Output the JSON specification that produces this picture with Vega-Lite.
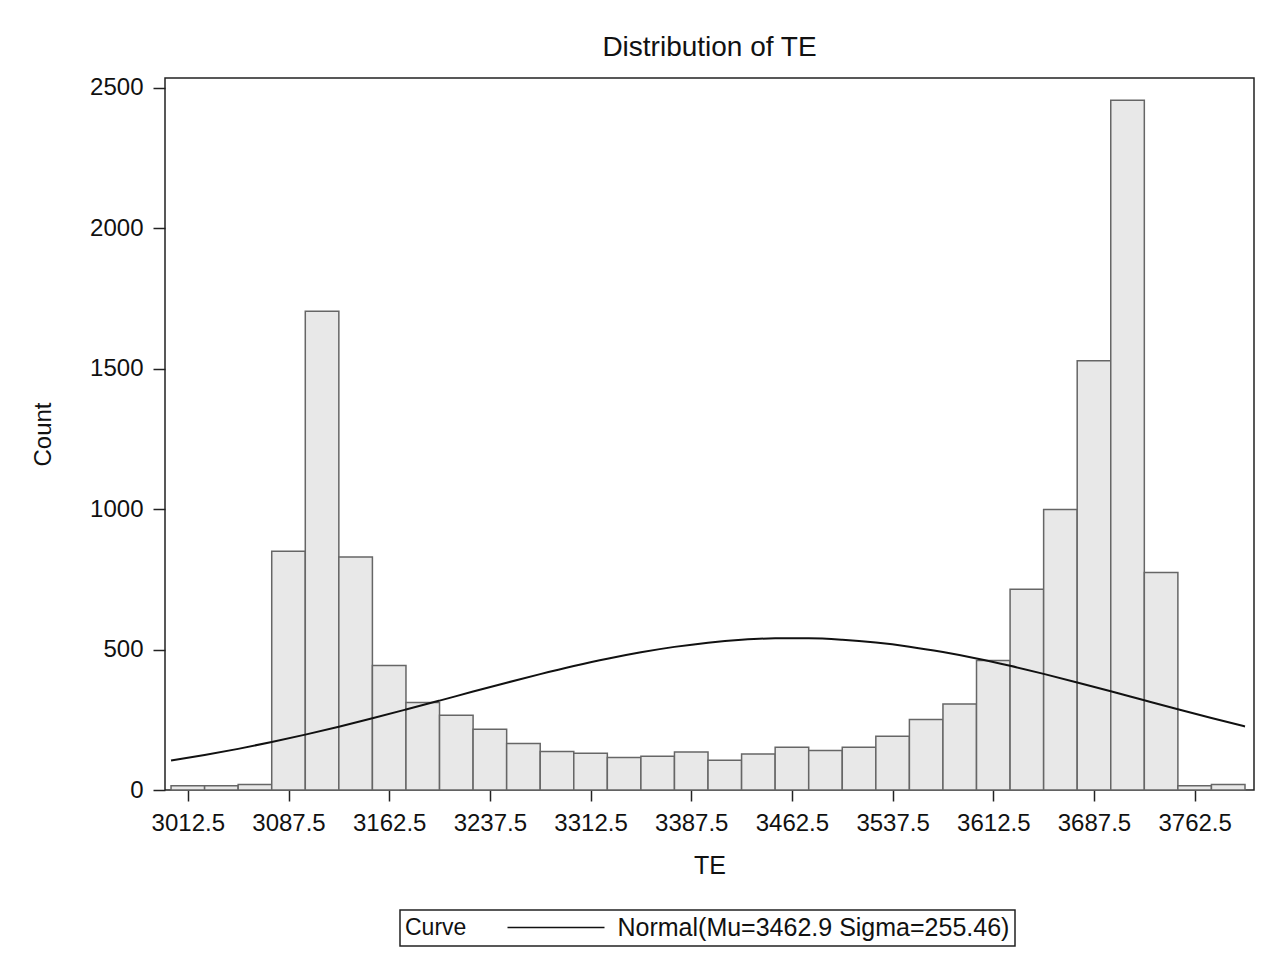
{
  "$schema": "https://vega.github.io/schema/vega-lite/v6.json",
  "width": 1089,
  "height": 712,
  "autosize": {"type": "none"},
  "padding": {"left": 165, "top": 78, "right": 33, "bottom": 172},
  "background": "white",
  "title": {
    "text": "Distribution of TE",
    "font": "Liberation Sans",
    "fontSize": 28,
    "fontWeight": "normal",
    "color": "#111",
    "baseline": "alphabetic",
    "offset": -8,
    "anchor": "middle"
  },
  "config": {
    "view": {"stroke": "#222", "strokeWidth": 1.5},
    "axis": {
      "labelFont": "Liberation Sans",
      "titleFont": "Liberation Sans",
      "labelFontSize": 24,
      "titleFontSize": 24,
      "titleFontWeight": "normal",
      "labelColor": "#111",
      "titleColor": "#111",
      "tickColor": "#222",
      "tickWidth": 1.5,
      "domain": false,
      "grid": false
    },
    "legend": {
      "labelFont": "Liberation Sans",
      "titleFont": "Liberation Sans",
      "strokeColor": "#222",
      "strokeWidth": 1.5
    }
  },
  "datasets": {
    "bins": [
      {"start": 3000, "end": 3025, "count": 15},
      {"start": 3025, "end": 3050, "count": 15},
      {"start": 3050, "end": 3075, "count": 20},
      {"start": 3075, "end": 3100, "count": 850},
      {"start": 3100, "end": 3125, "count": 1705},
      {"start": 3125, "end": 3150, "count": 830},
      {"start": 3150, "end": 3175, "count": 443},
      {"start": 3175, "end": 3200, "count": 312},
      {"start": 3200, "end": 3225, "count": 266},
      {"start": 3225, "end": 3250, "count": 216},
      {"start": 3250, "end": 3275, "count": 166},
      {"start": 3275, "end": 3300, "count": 137},
      {"start": 3300, "end": 3325, "count": 131},
      {"start": 3325, "end": 3350, "count": 116},
      {"start": 3350, "end": 3375, "count": 120},
      {"start": 3375, "end": 3400, "count": 135},
      {"start": 3400, "end": 3425, "count": 106},
      {"start": 3425, "end": 3450, "count": 128},
      {"start": 3450, "end": 3475, "count": 152},
      {"start": 3475, "end": 3500, "count": 141},
      {"start": 3500, "end": 3525, "count": 152},
      {"start": 3525, "end": 3550, "count": 191},
      {"start": 3550, "end": 3575, "count": 251},
      {"start": 3575, "end": 3600, "count": 306},
      {"start": 3600, "end": 3625, "count": 461},
      {"start": 3625, "end": 3650, "count": 715},
      {"start": 3650, "end": 3675, "count": 999},
      {"start": 3675, "end": 3700, "count": 1529},
      {"start": 3700, "end": 3725, "count": 2456},
      {"start": 3725, "end": 3750, "count": 775},
      {"start": 3750, "end": 3775, "count": 15},
      {"start": 3775, "end": 3800, "count": 20}
    ],
    "curve": [
      {"te": 3000, "density": 104.7, "curve": "Normal(Mu=3462.9 Sigma=255.46)"},
      {"te": 3025, "density": 124.5, "curve": "Normal(Mu=3462.9 Sigma=255.46)"},
      {"te": 3050, "density": 146.5, "curve": "Normal(Mu=3462.9 Sigma=255.46)"},
      {"te": 3075, "density": 170.8, "curve": "Normal(Mu=3462.9 Sigma=255.46)"},
      {"te": 3100, "density": 197.2, "curve": "Normal(Mu=3462.9 Sigma=255.46)"},
      {"te": 3125, "density": 225.5, "curve": "Normal(Mu=3462.9 Sigma=255.46)"},
      {"te": 3150, "density": 255.4, "curve": "Normal(Mu=3462.9 Sigma=255.46)"},
      {"te": 3175, "density": 286.6, "curve": "Normal(Mu=3462.9 Sigma=255.46)"},
      {"te": 3200, "density": 318.4, "curve": "Normal(Mu=3462.9 Sigma=255.46)"},
      {"te": 3225, "density": 350.5, "curve": "Normal(Mu=3462.9 Sigma=255.46)"},
      {"te": 3250, "density": 382.1, "curve": "Normal(Mu=3462.9 Sigma=255.46)"},
      {"te": 3275, "density": 412.6, "curve": "Normal(Mu=3462.9 Sigma=255.46)"},
      {"te": 3300, "density": 441.3, "curve": "Normal(Mu=3462.9 Sigma=255.46)"},
      {"te": 3325, "density": 467.5, "curve": "Normal(Mu=3462.9 Sigma=255.46)"},
      {"te": 3350, "density": 490.5, "curve": "Normal(Mu=3462.9 Sigma=255.46)"},
      {"te": 3375, "density": 509.7, "curve": "Normal(Mu=3462.9 Sigma=255.46)"},
      {"te": 3400, "density": 524.7, "curve": "Normal(Mu=3462.9 Sigma=255.46)"},
      {"te": 3425, "density": 534.9, "curve": "Normal(Mu=3462.9 Sigma=255.46)"},
      {"te": 3450, "density": 540.1, "curve": "Normal(Mu=3462.9 Sigma=255.46)"},
      {"te": 3475, "density": 540.2, "curve": "Normal(Mu=3462.9 Sigma=255.46)"},
      {"te": 3500, "density": 535.1, "curve": "Normal(Mu=3462.9 Sigma=255.46)"},
      {"te": 3525, "density": 525.1, "curve": "Normal(Mu=3462.9 Sigma=255.46)"},
      {"te": 3550, "density": 510.3, "curve": "Normal(Mu=3462.9 Sigma=255.46)"},
      {"te": 3575, "density": 491.1, "curve": "Normal(Mu=3462.9 Sigma=255.46)"},
      {"te": 3600, "density": 468.3, "curve": "Normal(Mu=3462.9 Sigma=255.46)"},
      {"te": 3625, "density": 442.2, "curve": "Normal(Mu=3462.9 Sigma=255.46)"},
      {"te": 3650, "density": 413.6, "curve": "Normal(Mu=3462.9 Sigma=255.46)"},
      {"te": 3675, "density": 383.1, "curve": "Normal(Mu=3462.9 Sigma=255.46)"},
      {"te": 3700, "density": 351.6, "curve": "Normal(Mu=3462.9 Sigma=255.46)"},
      {"te": 3725, "density": 319.5, "curve": "Normal(Mu=3462.9 Sigma=255.46)"},
      {"te": 3750, "density": 287.6, "curve": "Normal(Mu=3462.9 Sigma=255.46)"},
      {"te": 3775, "density": 256.4, "curve": "Normal(Mu=3462.9 Sigma=255.46)"},
      {"te": 3800, "density": 226.4, "curve": "Normal(Mu=3462.9 Sigma=255.46)"}
    ]
  },
  "layer": [
    {
      "data": {"name": "bins"},
      "mark": {"type": "rect", "fill": "#e8e8e8", "stroke": "#666", "strokeWidth": 1.5},
      "encoding": {
        "x": {
          "field": "start",
          "type": "quantitative",
          "scale": {"domain": [2995.5, 3806.7], "nice": false, "zero": false},
          "axis": {
            "title": "TE",
            "values": [3012.5, 3087.5, 3162.5, 3237.5, 3312.5, 3387.5, 3462.5, 3537.5, 3612.5, 3687.5, 3762.5],
            "format": ".1f",
            "tickSize": 11,
            "labelPadding": 10,
            "titlePadding": 18,
            "titleFontSize": 25,
            "labelOverlap": false,
            "labelFlush": false
          }
        },
        "x2": {"field": "end"},
        "y": {
          "field": "count",
          "type": "quantitative",
          "scale": {"domain": [0, 2535.6], "nice": false, "zero": true},
          "axis": {
            "title": "Count",
            "values": [0, 500, 1000, 1500, 2000, 2500],
            "format": "d",
            "tickSize": 12,
            "labelPadding": 10,
            "titlePadding": 34,
            "labelOverlap": false,
            "labelFlush": false
          }
        },
        "y2": {"datum": 0}
      }
    },
    {
      "data": {"name": "curve"},
      "mark": {"type": "line", "strokeWidth": 2, "interpolate": "monotone"},
      "encoding": {
        "x": {"field": "te", "type": "quantitative"},
        "y": {"field": "density", "type": "quantitative"},
        "stroke": {
          "field": "curve",
          "type": "nominal",
          "scale": {"range": ["#111"]},
          "legend": {
            "title": "Curve",
            "orient": "none",
            "legendX": 235,
            "legendY": 832,
            "direction": "horizontal",
            "titleOrient": "left",
            "titleFontSize": 23,
            "titleFontWeight": "normal",
            "titleColor": "#111",
            "titlePadding": 28,
            "titleBaseline": "middle",
            "labelFontSize": 25,
            "labelColor": "#111",
            "labelOffset": 97.5,
            "labelLimit": 0,
            "symbolType": "M0,0H19.4",
            "symbolSize": 100,
            "symbolStrokeWidth": 1.5,
            "symbolStrokeColor": "#111",
            "symbolOffset": 0,
            "fillColor": "white",
            "padding": 5
          }
        }
      }
    }
  ]
}
